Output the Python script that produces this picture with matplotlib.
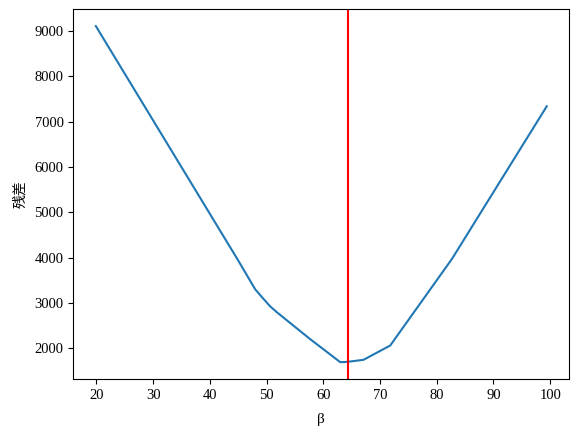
import matplotlib
matplotlib.use("Agg")
import matplotlib.pyplot as plt

# residual against beta
beta = [19.9, 45.0, 48.0, 49.45, 50.6, 51.8, 57.7, 63.0, 64.3, 67.1, 71.8, 82.7, 99.4]
residual = [9110, 3937, 3300, 3091, 2928, 2796, 2200, 1692, 1700, 1745, 2060, 3974, 7340]
beta_best = 64.3

plt.rcParams['font.family'] = ['Liberation Serif', 'Noto Sans CJK JP', 'DejaVu Sans']
plt.rcParams['font.size'] = 10

fig = plt.figure(figsize=(5.79, 4.36), dpi=100)
ax = fig.add_axes([73.3 / 579, 57 / 436, 496 / 579, 369.7 / 436])
ax.plot(beta, residual)
ax.axvline(beta_best, color='red')
ax.set_xlabel("β", fontsize=11, labelpad=8)
ax.set_ylabel("残差", labelpad=5)
ax.set_xticks([20, 30, 40, 50, 60, 70, 80, 90, 100])
ax.tick_params(labelsize=10.5)
fig.savefig("out.png", dpi=100)
